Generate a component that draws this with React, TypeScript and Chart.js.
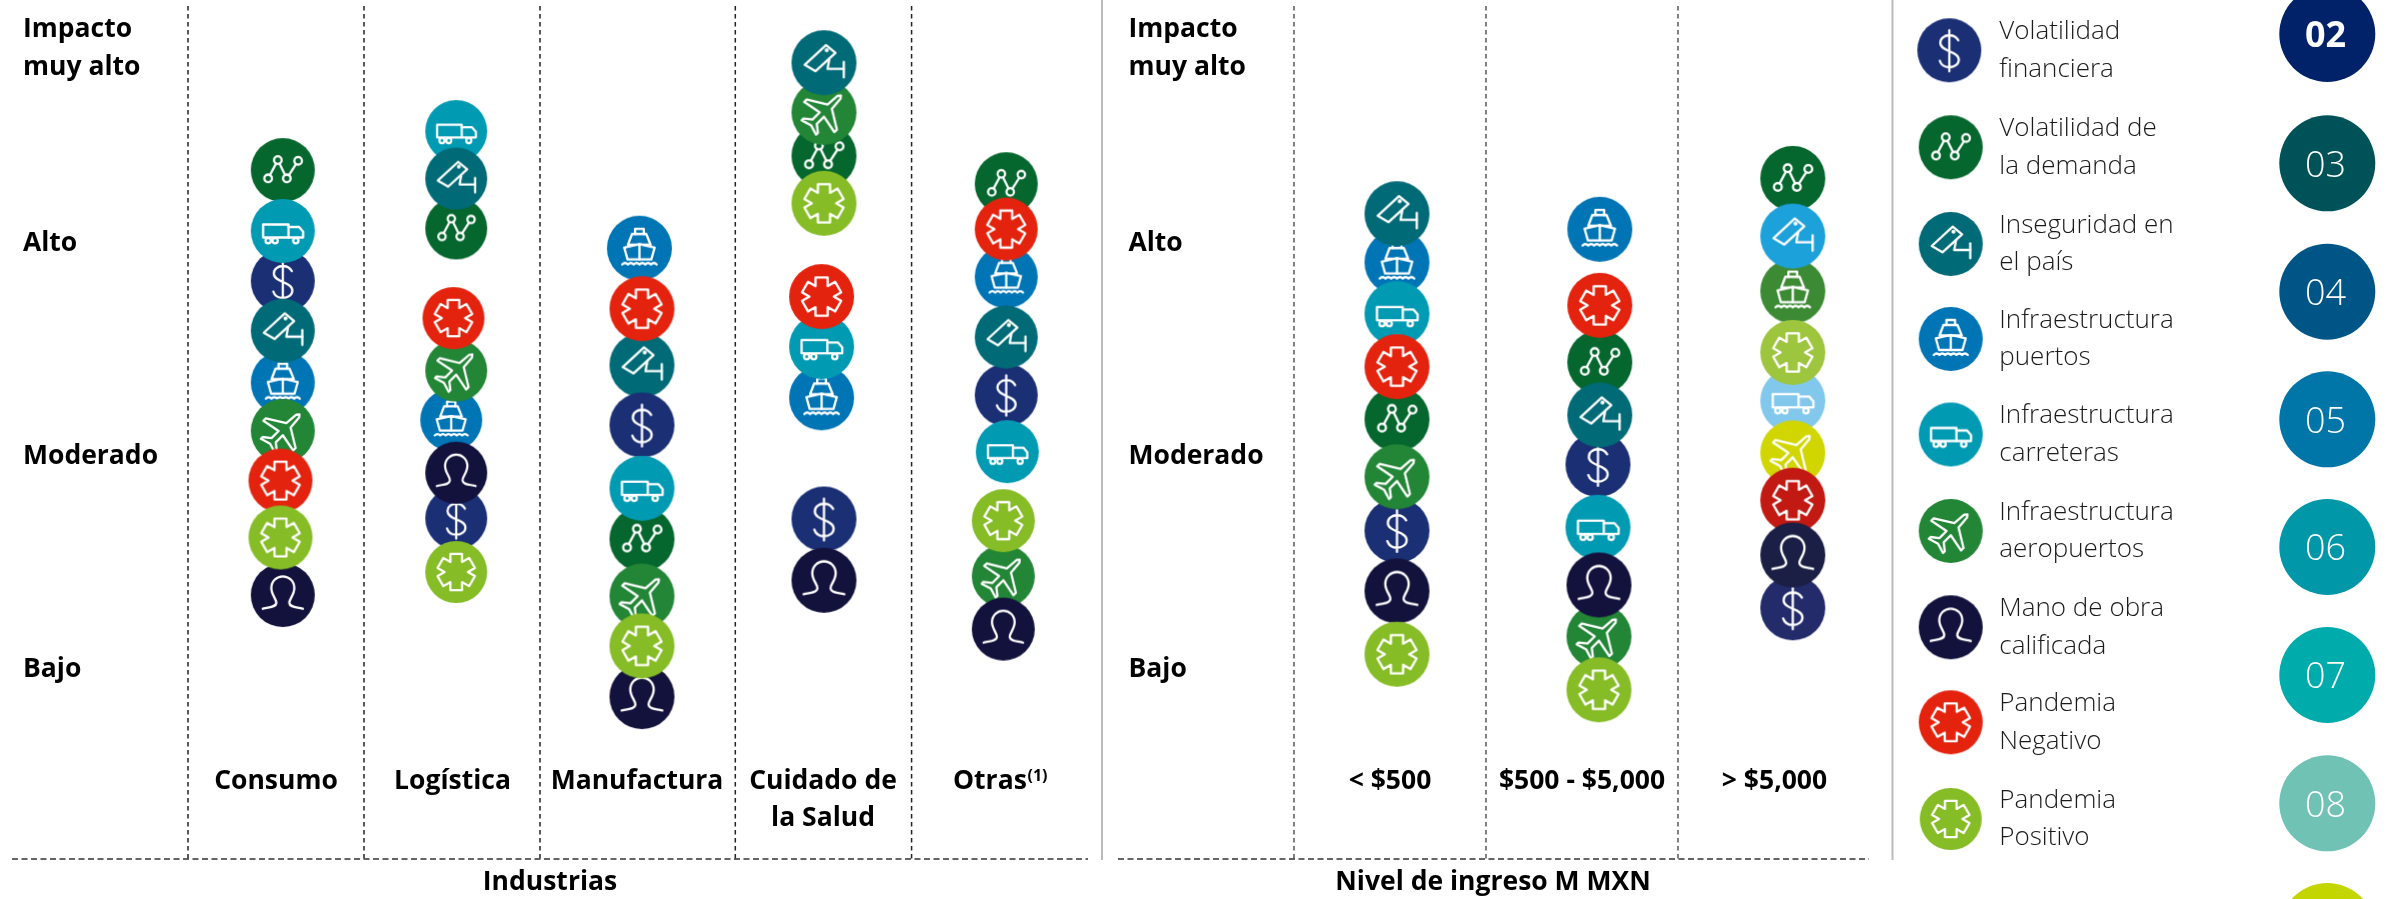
import React, { useEffect, useRef } from "react";
import { Chart, registerables } from "chart.js";

Chart.register(...registerables);

// ---------- DATA ----------
const impactLevels = [4, 3, 2, 1];
const impactLabels = [["Impacto", "muy alto"], ["Alto"], ["Moderado"], ["Bajo"]];

const industryColumns = [["Consumo"], ["Logística"], ["Manufactura"], ["Cuidado de", "la Salud"], ["Otras"]];
const incomeColumns = [["< $500"], ["$500 - $5,000"], ["> $5,000"]];
const groupTitles = ["Industrias", "Nivel de ingreso M MXN"];

const riskKeys = ["dollar", "network", "camera", "ship", "truck", "plane", "person", "starNeg", "starPos"];
const legendLabels = [
  ["Volatilidad", "financiera"],
  ["Volatilidad de", "la demanda"],
  ["Inseguridad en", "el país"],
  ["Infraestructura", "puertos"],
  ["Infraestructura", "carreteras"],
  ["Infraestructura", "aeropuertos"],
  ["Mano de obra", "calificada"],
  ["Pandemia", "Negativo"],
  ["Pandemia", "Positivo"],
];
const pageNumbers = ["02", "03", "04", "05", "06", "07", "08", "09"];

// Each column lists its risks in stacking order, with the impact read for each.
const consumoRisks = ["network", "dollar", "truck", "ship", "camera", "plane", "starNeg", "person", "starPos"];
const consumoImpact = [3.333, 2.812, 3.047, 2.335, 2.579, 2.108, 1.875, 1.338, 1.608];
const logisticaRisks = ["network", "truck", "camera", "ship", "plane", "starNeg", "dollar", "person", "starPos"];
const logisticaImpact = [3.059, 3.516, 3.293, 2.16, 2.392, 2.638, 1.698, 1.912, 1.446];
const manufacturaRisks = ["ship", "camera", "dollar", "starNeg", "network", "truck", "plane", "person", "starPos"];
const manufacturaImpact = [2.966, 2.418, 2.136, 2.682, 1.601, 1.839, 1.333, 0.861, 1.099];
const saludRisks = ["network", "plane", "camera", "starPos", "ship", "truck", "starNeg", "dollar", "person"];
const saludImpact = [3.4, 3.604, 3.837, 3.177, 2.264, 2.504, 2.739, 1.695, 1.407];
const otrasRisks = ["network", "ship", "starNeg", "dollar", "camera", "truck", "plane", "starPos", "person"];
const otrasImpact = [3.269, 2.832, 3.056, 2.277, 2.549, 2.011, 1.427, 1.687, 1.178];
const ingresoBajoRisks = ["ship", "camera", "truck", "network", "starNeg", "dollar", "plane", "person", "starPos"];
const ingresoBajoImpact = [2.9, 3.128, 2.659, 2.164, 2.41, 1.641, 1.893, 1.357, 1.06];
const ingresoMedioRisks = ["ship", "network", "starNeg", "dollar", "camera", "truck", "plane", "person", "starPos"];
const ingresoMedioImpact = [3.055, 2.431, 2.698, 1.951, 2.183, 1.656, 1.144, 1.385, 0.893];
const ingresoAltoRisks = ["network", "ship", "camera", "truck", "starPos", "plane", "starNeg", "dollar", "person"];
const ingresoAltoImpact = [3.294, 2.765, 3.023, 2.25, 2.477, 2.005, 1.783, 1.278, 1.526];

// ---------- STYLE AND LAYOUT ----------
const W = 2395;
const H = 899;
const BAJO_PX = 667;
const STEP_PX = 213;
const yMax = 1 + BAJO_PX / STEP_PX;
const yMin = 1 - (H - BAJO_PX) / STEP_PX;

const riskColors: Record<string, string> = {
  dollar: "#1B2F75",
  network: "#05672E",
  camera: "#006A77",
  ship: "#0075B5",
  truck: "#009AB3",
  plane: "#238636",
  person: "#13123D",
  starNeg: "#E4230F",
  starPos: "#86BC25",
};
const ingresoAltoColors: Record<string, string> = {
  network: "#05672E",
  ship: "#3C8B34",
  camera: "#1DA1DB",
  truck: "#82C8EC",
  starPos: "#9DC53E",
  plane: "#D1D600",
  starNeg: "#C21A13",
  dollar: "#232B6B",
  person: "#1B1F45",
};
const pageColors = ["#012169", "#005259", "#005587", "#0076A8", "#0097A9", "#00ABAB", "#6FC2B4", "#C4D600"];

const columns = [
  { risks: consumoRisks, impact: consumoImpact, x: 282.8, d: 64, nudge: { starNeg: -2.3, starPos: -2.3 } },
  { risks: logisticaRisks, impact: logisticaImpact, x: 456.2, d: 62, nudge: { starNeg: -2.7, ship: -5 } },
  { risks: manufacturaRisks, impact: manufacturaImpact, x: 642, d: 65, nudge: { ship: -2.6 } },
  { risks: saludRisks, impact: saludImpact, x: 824, d: 65, nudge: { starNeg: -2.4, truck: -2.4, ship: -2.4 } },
  { risks: otrasRisks, impact: otrasImpact, x: 1006.2, d: 63, nudge: { truck: 1.1, starPos: -2.9, plane: -2.9, person: -2.9 } },
  { risks: ingresoBajoRisks, impact: ingresoBajoImpact, x: 1397, d: 65, nudge: {} },
  { risks: ingresoMedioRisks, impact: ingresoMedioImpact, x: 1599.8, d: 65, nudge: { dollar: -1.8, truck: -1.8, plane: -0.8, person: -0.8, starPos: -0.8 } },
  { risks: ingresoAltoRisks, impact: ingresoAltoImpact, x: 1792.8, d: 65, nudge: {}, colors: ingresoAltoColors },
];

const leftSeparators = [188, 364, 540, 735.3, 911.6];
const rightSeparators = [1294, 1486, 1678];
const dividers = [1102, 1892.5];
const columnLabelCenters = [276, 452.5, 637, 823, 990];
const incomeLabelCenters = [1390, 1582, 1774.5];
const legendY = [50.3, 147.3, 244, 339, 434.5, 531, 627.3, 722.3, 819];
const numberY = [34, 163.3, 291.7, 419.3, 547, 675, 803.3, 931];

const BOLD = '700 26.5px "Open Sans"';
const LIGHT = '300 26px "Open Sans"';

// ---------- ICONS ----------
function poly(c: CanvasRenderingContext2D, pts: number[][], close = true) {
  c.beginPath();
  pts.forEach((p, i) => (i ? c.lineTo(p[0], p[1]) : c.moveTo(p[0], p[1])));
  if (close) c.closePath();
  c.stroke();
}
function ring(c: CanvasRenderingContext2D, x: number, y: number, r: number) {
  c.beginPath();
  c.arc(x, y, r, 0, Math.PI * 2);
  c.stroke();
}

const glyphs: Record<string, (c: CanvasRenderingContext2D) => void> = {
  dollar(c) {
    c.beginPath();
    c.moveTo(9, -10);
    c.bezierCurveTo(7, -13.5, 3.5, -15, 0, -15);
    c.bezierCurveTo(-5, -15, -9, -12, -9, -7.5);
    c.bezierCurveTo(-9, -3, -4.5, -1, 0, 1);
    c.bezierCurveTo(5, 3, 9.5, 5, 9.5, 9.5);
    c.bezierCurveTo(9.5, 14, 5, 17, 0, 17);
    c.bezierCurveTo(-4, 17, -8, 15, -9.5, 10.5);
    c.moveTo(0, -20);
    c.lineTo(0, 21);
    c.stroke();
  },
  network(c) {
    const n = [[-14.7, 8.3], [-5, -10], [4, 8.3], [15.3, -9.3]];
    const r = 3.8;
    n.forEach((p) => ring(c, p[0], p[1], r));
    for (let i = 0; i < 3; i++) {
      const [x0, y0] = n[i];
      const [x1, y1] = n[i + 1];
      const len = Math.hypot(x1 - x0, y1 - y0);
      const ux = (x1 - x0) / len;
      const uy = (y1 - y0) / len;
      poly(c, [[x0 + ux * r, y0 + uy * r], [x1 - ux * r, y1 - uy * r]], false);
    }
  },
  camera(c) {
    poly(c, [[-19, 2], [2, -17.3], [11.3, -9.7], [-8.3, 8.3]]);
    ring(c, 2.7, -12.3, 0.9);
    poly(c, [[5.3, -4], [3.5, 6], [19.5, 6]], false);
    poly(c, [[19.5, -0.7], [19.5, 14.3]], false);
  },
  ship(c) {
    poly(c, [[-4.3, -14], [-4.3, -19], [4.3, -19], [4.3, -14]], false);
    poly(c, [[-7.3, -14], [-11.3, -3.5], [11, -3.5], [6.7, -14]]);
    poly(c, [[-15, -0.7], [0, -4], [15, -0.7], [11.7, 11], [-11.7, 11]]);
    poly(c, [[0, -4], [0, 11]], false);
    c.beginPath();
    const n = 6;
    const w = 34 / n;
    for (let i = 0; i < n; i++) {
      const x = -17 + i * w;
      c.moveTo(x, 16);
      c.quadraticCurveTo(x + w / 2, 13, x + w, 16);
    }
    c.stroke();
  },
  truck(c) {
    poly(c, [[-19.7, -6.5], [5.7, -6.5], [5.7, 6.5], [-19.7, 6.5]]);
    poly(c, [[5.7, -4], [16.3, -4], [20.3, 0.7], [20.3, 6.5], [5.7, 6.5]], false);
    ring(c, -14.7, 9.8, 2.6);
    ring(c, -7.7, 9.8, 2.6);
    ring(c, 13, 9.8, 2.6);
  },
  plane(c) {
    c.save();
    c.rotate(Math.PI / 4);
    const half = [[2, -21], [3, -8], [21, 3], [21, 6.5], [3, 3], [3, 13], [10, 18.5], [10, 21], [0, 18]];
    const pts = [[0, -23.5], ...half, ...half.slice(0, -1).reverse().map((p) => [-p[0], p[1]])];
    poly(c, pts);
    c.restore();
  },
  person(c) {
    c.beginPath();
    c.moveTo(-20, 13.7);
    c.bezierCurveTo(-14, 12, -7, 12.5, -6.5, 8);
    c.bezierCurveTo(-6, 4.5, -11.5, 0, -11.5, -7);
    c.bezierCurveTo(-11.5, -14, -6, -18.7, 0, -18.7);
    c.bezierCurveTo(6, -18.7, 11.5, -14, 11.5, -7);
    c.bezierCurveTo(11.5, 0, 6, 4.5, 6.5, 8);
    c.bezierCurveTo(7, 12.5, 14, 12, 20, 13.7);
    c.stroke();
  },
  starNeg(c) {
    const R = 18.8;
    const w = 6;
    const pts: number[][] = [];
    for (let i = 0; i < 6; i++) {
      const a = ((i * 60 - 90) * Math.PI) / 180;
      const ux = Math.cos(a);
      const uy = Math.sin(a);
      pts.push([ux * R + uy * w, uy * R - ux * w]);
      pts.push([ux * R - uy * w, uy * R + ux * w]);
      const b = a + Math.PI / 6;
      pts.push([Math.cos(b) * 2 * w, Math.sin(b) * 2 * w]);
    }
    poly(c, pts);
  },
};
glyphs.starPos = glyphs.starNeg;

const iconCache = new Map<string, HTMLCanvasElement>();
function icon(kind: string, color: string, d: number): HTMLCanvasElement {
  const key = `${kind}|${color}|${d}`;
  const hit = iconCache.get(key);
  if (hit) return hit;
  const cv = document.createElement("canvas");
  cv.width = d + 2;
  cv.height = d + 2;
  const c = cv.getContext("2d")!;
  c.translate(cv.width / 2, cv.height / 2);
  c.fillStyle = color;
  c.beginPath();
  c.arc(0, 0, d / 2, 0, Math.PI * 2);
  c.fill();
  const s = d / 64;
  c.scale(s, s);
  c.strokeStyle = "#FFFFFF";
  c.lineWidth = 2.3;
  c.lineJoin = "round";
  c.lineCap = "round";
  glyphs[kind](c);
  iconCache.set(key, cv);
  return cv;
}

// ---------- ANNOTATIONS ----------
const annotationPlugin = {
  id: "panelAnnotations",
  beforeDatasetsDraw(chart: any) {
    const c: CanvasRenderingContext2D = chart.ctx;
    const xs = chart.scales.x;
    const xp = (v: number) => xs.getPixelForValue(v);
    const yBottom = 859;

    c.save();
    c.lineWidth = 1.5;
    c.setLineDash([4.5, 3.5]);
    c.strokeStyle = "#222222";
    leftSeparators.forEach((v) => {
      c.beginPath();
      c.moveTo(xp(v), 6);
      c.lineTo(xp(v), yBottom);
      c.stroke();
    });
    c.strokeStyle = "#555555";
    rightSeparators.forEach((v) => {
      c.beginPath();
      c.moveTo(xp(v), 6);
      c.lineTo(xp(v), yBottom);
      c.stroke();
    });
    c.setLineDash([6, 3.5]);
    c.strokeStyle = "#333333";
    c.beginPath();
    c.moveTo(12, yBottom);
    c.lineTo(1088, yBottom);
    c.moveTo(1118, yBottom);
    c.lineTo(1869, yBottom);
    c.stroke();
    c.setLineDash([]);
    c.strokeStyle = "#BBBBBB";
    c.lineWidth = 2;
    dividers.forEach((v) => {
      c.beginPath();
      c.moveTo(xp(v), 0);
      c.lineTo(xp(v), 860);
      c.stroke();
    });
    c.restore();
  },
  afterDraw(chart: any) {
    const c: CanvasRenderingContext2D = chart.ctx;
    const ys = chart.scales.y;
    c.save();
    c.textBaseline = "middle";
    c.fillStyle = "#000000";

    // Impact axis labels on both panels
    c.font = BOLD;
    c.textAlign = "left";
    [23, 1128.5].forEach((x) => {
      impactLevels.forEach((lv, i) => {
        const lines = impactLabels[i];
        if (lines.length === 2) {
          c.fillText(lines[0], x, 29.5);
          c.fillText(lines[1], x, 67);
        } else {
          c.fillText(lines[0], x, ys.getPixelForValue(lv) + 2);
        }
      });
    });

    // Column labels
    c.textAlign = "center";
    const drawColumn = (lines: string[], x: number) => {
      lines.forEach((t, i) => c.fillText(t, x, 781 + i * 37.5));
    };
    industryColumns.forEach((lines, i) => {
      if (lines[0] === "Otras") {
        c.textAlign = "left";
        c.fillText("Otras", 953, 781);
        c.font = '700 16px "Open Sans"';
        c.fillText("(1)", 1027.5, 776);
        c.font = BOLD;
        c.textAlign = "center";
      } else {
        drawColumn(lines, columnLabelCenters[i]);
      }
    });
    incomeColumns.forEach((lines, i) => drawColumn(lines, incomeLabelCenters[i]));

    // Group titles
    c.fillText(groupTitles[0], 550, 882);
    c.fillText(groupTitles[1], 1493, 882);

    // Legend
    riskKeys.forEach((k, i) => {
      const d = k === "starPos" ? 62 : 64;
      const img = icon(k, riskColors[k], d);
      const cx = k === "dollar" ? 1949.3 : 1950.7;
      c.drawImage(img, cx - img.width / 2, legendY[i] - img.height / 2);
      c.font = LIGHT;
      c.fillStyle = "#1A1A1A";
      c.textAlign = "left";
      legendLabels[i].forEach((t, j) => c.fillText(t, 1999.3, legendY[i] - 18.5 + j * 37.3));
    });

    // Section numbers
    pageNumbers.forEach((n, i) => {
      c.fillStyle = pageColors[i];
      c.beginPath();
      c.arc(2327.3, numberY[i], 48, 0, Math.PI * 2);
      c.fill();
      c.fillStyle = "#FFFFFF";
      c.textAlign = "center";
      c.font = i === 0 ? '700 36px "Open Sans"' : '300 36px "Open Sans"';
      c.fillText(n, 2325.5, numberY[i] + 3);
    });
    c.restore();
  },
};

export default function App() {
  const ref = useRef<HTMLCanvasElement>(null);
  useEffect(() => {
    document.body.style.margin = "0";
    document.documentElement.style.overflow = "hidden";
    const datasets = columns.map((col, ci) => ({
      label: (industryColumns[ci] || incomeColumns[ci - industryColumns.length]).join(" "),
      data: col.risks.map((r, i) => ({
        x: col.x + ((col.nudge as Record<string, number>)[r] || 0),
        y: col.impact[i],
      })),
      showLine: false,
      clip: false as const,
      pointRadius: col.d / 2,
      pointStyle: col.risks.map((r) => icon(r, (col.colors || riskColors)[r], col.d)),
    }));
    const chart = new Chart(ref.current!, {
      type: "scatter",
      data: { datasets },
      options: {
        animation: false,
        responsive: false,
        devicePixelRatio: 1,
        events: [],
        layout: { padding: 0, autoPadding: false },
        plugins: { legend: { display: false }, tooltip: { enabled: false }, title: { display: false } },
        scales: {
          x: { type: "linear", display: false, min: 0, max: W },
          y: { type: "linear", display: false, min: yMin, max: yMax },
        },
      },
      plugins: [annotationPlugin],
    } as any);
    return () => chart.destroy();
  }, []);
  return (
    <canvas
      ref={ref}
      width={W}
      height={H}
      style={{ position: "absolute", left: 0, top: 0, width: W, height: H, display: "block", background: "#fff" }}
    />
  );
}
